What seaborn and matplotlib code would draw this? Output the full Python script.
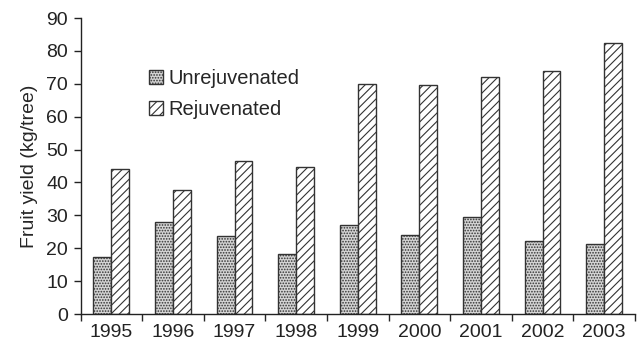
import numpy as np
import pandas as pd
import seaborn as sns
import matplotlib.pyplot as plt
from matplotlib.ticker import FixedLocator

years = ['1995', '1996', '1997', '1998', '1999', '2000', '2001', '2002', '2003']
unrejuvenated = [17.3, 28.0, 23.8, 18.2, 27.0, 24.0, 29.5, 22.3, 21.3]
rejuvenated = [44.0, 37.6, 46.4, 44.8, 70.0, 69.7, 72.0, 74.0, 82.3]
groups = ['Unrejuvenated', 'Rejuvenated']

sns.set_style('white')
plt.rcParams['font.family'] = ['Liberation Sans', 'DejaVu Sans']
plt.rcParams['hatch.linewidth'] = 0.8
plt.rcParams['hatch.color'] = '#333333'

df = pd.DataFrame({
    'year': years * 2,
    'yield': unrejuvenated + rejuvenated,
    'group': [groups[0]] * len(years) + [groups[1]] * len(years),
})

fig, ax = plt.subplots(figsize=(6.44, 3.47), dpi=100)
sns.barplot(data=df, x='year', y='yield', hue='group', hue_order=groups,
            palette=['#d4d4d4', 'white'], edgecolor='#333333', linewidth=1.0,
            width=0.58, gap=0, ax=ax)

hatches = ['......', '////']
for cont, h in zip(ax.containers, hatches):
    for p in cont:
        p.set_hatch(h)

ax.set_ylim(0, 90)
ax.set_xlim(-0.5, len(years) - 0.5)
ax.set_yticks(range(0, 91, 10))
ax.set_xlabel('')
ax.set_ylabel('Fruit yield (kg/tree)', fontsize=14, labelpad=6)
ax.tick_params(axis='both', labelsize=14, colors='#222222')
ax.tick_params(axis='x', which='major', length=0, pad=7)
ax.tick_params(axis='y', direction='out', length=5, width=1, left=True, pad=4)
ax.xaxis.set_minor_locator(FixedLocator(np.arange(-0.5, len(years), 1.0)))
ax.tick_params(axis='x', which='minor', direction='out', length=5, width=1, bottom=True)
sns.despine(ax=ax)
for s in ['left', 'bottom']:
    ax.spines[s].set_color('#222222')
    ax.spines[s].set_linewidth(1.0)

leg = ax.legend(loc='upper left', bbox_to_anchor=(0.09, 0.89), frameon=False,
                fontsize=14.5, handlelength=0.7, handleheight=0.7,
                handletextpad=0.3, labelspacing=0.6)
for h, hatch in zip(leg.legend_handles, hatches):
    h.set_hatch(hatch)

fig.subplots_adjust(left=0.125, right=0.986, top=0.948, bottom=0.095)
fig.savefig('out.png', dpi=100)
